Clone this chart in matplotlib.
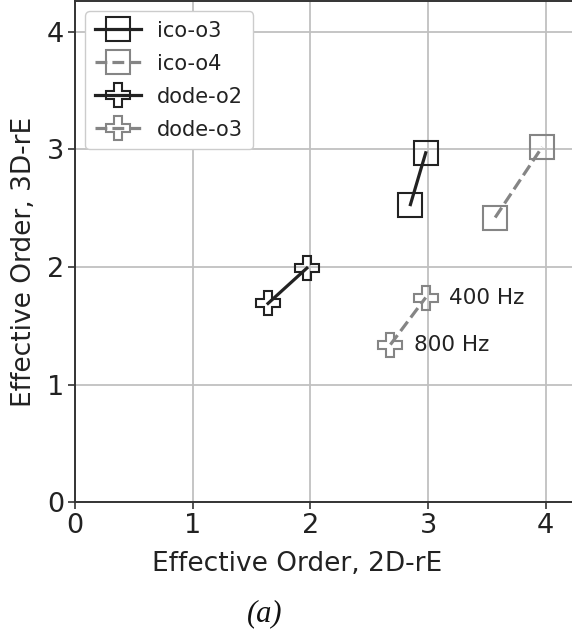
import matplotlib
matplotlib.use("Agg")
import matplotlib.pyplot as plt

# data
ico_o3_x = [2.85, 2.98]
ico_o3_y = [2.53, 2.97]
ico_o4_x = [3.57, 3.97]
ico_o4_y = [2.42, 3.02]
dode_o2_x = [1.64, 1.97]
dode_o2_y = [1.69, 1.99]
dode_o3_x = [2.68, 2.98]
dode_o3_y = [1.34, 1.74]
series_labels = ["ico-o3", "ico-o4", "dode-o2", "dode-o3"]
freq_labels = ["800 Hz", "400 Hz"]
ticks = [0, 1, 2, 3, 4]

W, H = 572, 634
fig = plt.figure(figsize=(W / 100, H / 100), dpi=100)
ax = fig.add_axes([75 / W, (H - 502.3) / H, 497 / W, 501.3 / H])

dark = "#222222"
gray = "#858585"
ms = 17.5
mew = 1.5
lw = 2.3

ax.plot(ico_o3_x, ico_o3_y, color=dark, lw=lw, ls="-", marker="s", ms=ms,
        mew=mew, mfc="none", mec=dark, label=series_labels[0])
ax.plot(ico_o4_x, ico_o4_y, color=gray, lw=lw, ls="--", marker="s", ms=ms,
        mew=mew, mfc="none", mec=gray, label=series_labels[1])
ax.plot(dode_o2_x, dode_o2_y, color=dark, lw=lw, ls="-", marker="P", ms=ms,
        mew=mew, mfc="none", mec=dark, label=series_labels[2])
ax.plot(dode_o3_x, dode_o3_y, color=gray, lw=lw, ls="--", marker="P", ms=ms,
        mew=mew, mfc="none", mec=gray, label=series_labels[3])

ax.annotate(freq_labels[1], xy=(dode_o3_x[1], dode_o3_y[1]), xytext=(16.5, 0),
            textcoords="offset points", va="center", ha="left", fontsize=15.5,
            color="#222222")
ax.annotate(freq_labels[0], xy=(dode_o3_x[0], dode_o3_y[0]), xytext=(17, 0),
            textcoords="offset points", va="center", ha="left", fontsize=15.5,
            color="#222222")

ax.set_xlim(0, 4.223)
ax.set_ylim(0, 4.26)
ax.set_xticks(ticks)
ax.set_yticks(ticks)
ax.grid(True, color="#c0c0c0", lw=1.3)
ax.set_axisbelow(True)
for s in ["left", "bottom", "top"]:
    ax.spines[s].set_color("#333333")
    ax.spines[s].set_linewidth(1.4)
ax.spines["right"].set_visible(False)
ax.tick_params(axis="both", labelsize=19.5, length=5, width=1.2, color="#333333",
               labelcolor="#222222", pad=3)

ax.set_xlabel("Effective Order, 2D-rE", fontsize=19, color="#222222")
ax.set_ylabel("Effective Order, 3D-rE", fontsize=19, color="#222222")
ax.xaxis.set_label_coords((297 - 75) / 497, -0.097)
ax.yaxis.set_label_coords(-0.077, 0.48)

leg = ax.legend(loc="upper left", fontsize=15, frameon=True, fancybox=True,
                edgecolor="#cccccc", framealpha=1, borderaxespad=0.5,
                handlelength=2.2, labelspacing=0.62, borderpad=0.45,
                handletextpad=0.8)
for t in leg.get_texts():
    t.set_color("#222222")

fig.text(265 / W, 1 - 614 / H, "(a)", fontsize=22, family="Liberation Serif",
         style="italic", ha="center", va="center", color="#111111")

fig.savefig("out.png", dpi=100)
